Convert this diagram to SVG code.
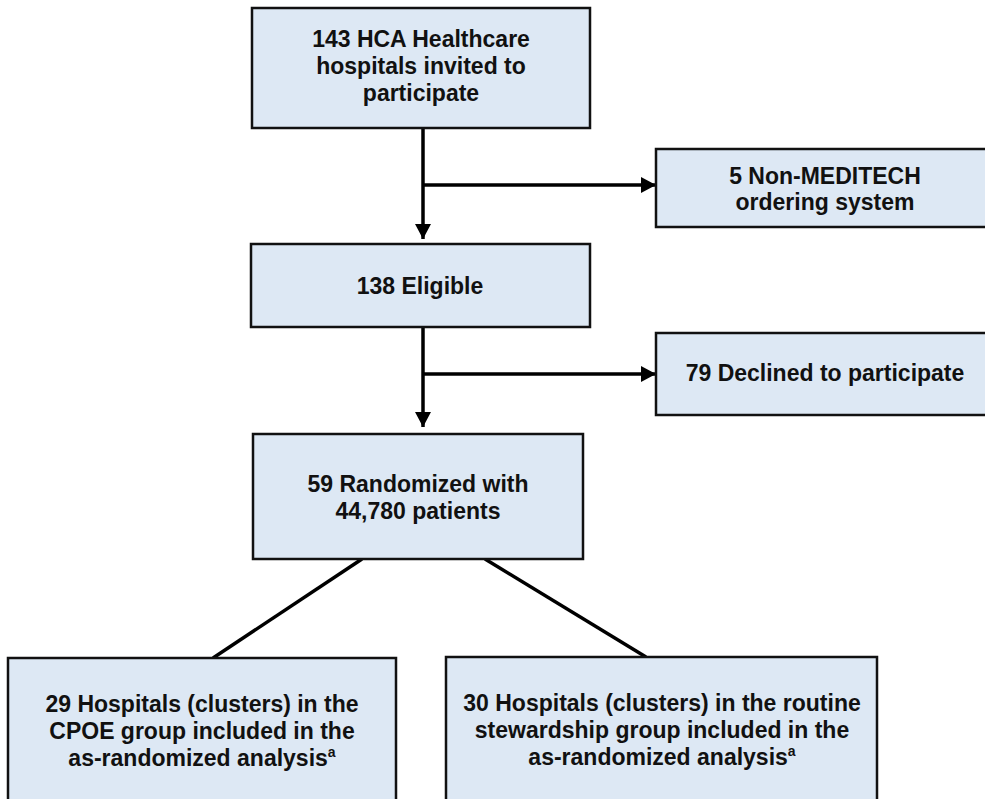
<svg xmlns="http://www.w3.org/2000/svg" width="985" height="799" viewBox="0 0 985 799">
<style>
.box{fill:#dde8f4;stroke:#111;stroke-width:2.5}
.t{font-family:"Liberation Sans",Arial,sans-serif;font-weight:bold;font-size:23px;fill:#111;text-anchor:middle}
.sup{font-size:14px}
.ln{stroke:#000;stroke-width:3.5;fill:none}
</style>
<defs>
<marker id="ah" markerUnits="userSpaceOnUse" markerWidth="16" markerHeight="16" refX="15" refY="8" orient="auto">
<path d="M0,0 L15,8 L0,16 Z" fill="#000"/>
</marker>
</defs>
<g id="connectors">
<line class="ln" x1="423" y1="128" x2="423" y2="239" marker-end="url(#ah)"/>
<line class="ln" x1="423" y1="185" x2="656" y2="185" marker-end="url(#ah)"/>
<line class="ln" x1="423" y1="327" x2="423" y2="427" marker-end="url(#ah)"/>
<line class="ln" x1="423" y1="374" x2="656" y2="374" marker-end="url(#ah)"/>
<line class="ln" x1="362" y1="559" x2="213" y2="658"/>
<line class="ln" x1="485" y1="559" x2="646" y2="657"/>
</g>
<g id="n1">
<rect class="box" x="252" y="8" width="338" height="120"/>
<text class="t" x="421" y="47">143 HCA Healthcare</text>
<text class="t" x="421" y="74">hospitals invited to</text>
<text class="t" x="421" y="101">participate</text>
</g>
<g id="n2">
<rect class="box" x="656" y="149" width="345" height="78"/>
<text class="t" x="825" y="184">5 Non-MEDITECH</text>
<text class="t" x="825" y="210">ordering system</text>
</g>
<g id="n3">
<rect class="box" x="251" y="244" width="339" height="83"/>
<text class="t" x="420" y="294">138 Eligible</text>
</g>
<g id="n4">
<rect class="box" x="656" y="333" width="345" height="82"/>
<text class="t" x="825" y="381">79 Declined to participate</text>
</g>
<g id="n5">
<rect class="box" x="253" y="434" width="330" height="125"/>
<text class="t" x="418" y="492">59 Randomized with</text>
<text class="t" x="418" y="519">44,780 patients</text>
</g>
<g id="n6">
<rect class="box" x="8" y="658" width="388" height="160"/>
<text class="t" x="202" y="712">29 Hospitals (clusters) in the</text>
<text class="t" x="202" y="739">CPOE group included in the</text>
<text class="t" x="202" y="766">as-randomized analysis<tspan class="sup" dy="-9">a</tspan></text>
</g>
<g id="n7">
<rect class="box" x="446" y="657" width="431" height="160"/>
<text class="t" x="662" y="711">30 Hospitals (clusters) in the routine</text>
<text class="t" x="662" y="738">stewardship group included in the</text>
<text class="t" x="662" y="765">as-randomized analysis<tspan class="sup" dy="-9">a</tspan></text>
</g>
</svg>
